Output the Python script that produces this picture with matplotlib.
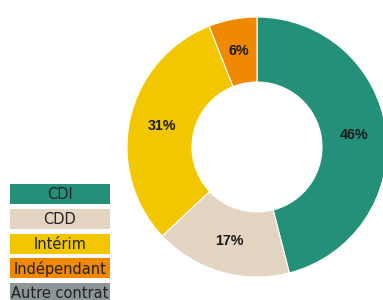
import numpy as np
import matplotlib.pyplot as plt
from matplotlib.patches import Rectangle

# contract types and shares (%)
categories = ["CDI", "CDD", "Intérim", "Indépendant", "Autre contrat"]
shares = [46, 17, 31, 6, 0]
colors = ["#24907a", "#e4d4c2", "#f2c700", "#f08800", "#8c9597"]

fig = plt.figure(figsize=(3.83, 3.0), dpi=100)

# background axes in pixel coords, used for the legend boxes
bg = fig.add_axes([0, 0, 1, 1])
bg.set_xlim(0, 383)
bg.set_ylim(300, 0)
bg.axis("off")

# donut
ax = fig.add_axes([127 / 383, 23 / 300, 260 / 383, 260 / 300])
vals = [v for v in shares if v > 0]
cols = [c for v, c in zip(shares, colors) if v > 0]
wedges, texts = ax.pie(
    vals,
    colors=cols,
    startangle=90,
    counterclock=False,
    radius=1.0,
    wedgeprops=dict(width=0.5, edgecolor="white", linewidth=0.8),
)
total = sum(vals)
for w, v in zip(wedges, vals):
    ang = np.deg2rad((w.theta1 + w.theta2) / 2)
    ax.text(0.75 * np.cos(ang), 0.75 * np.sin(ang), f"{round(100 * v / total)}%",
            ha="center", va="center", fontsize=10.3, fontweight="bold",
            family="Liberation Sans", color="#1a1a1a")
ax.set_xlim(-1, 1)
ax.set_ylim(-1, 1)
ax.axis("off")

# legend as filled boxes
top = 184
for i, (name, c) in enumerate(zip(categories, colors)):
    y = top + i * 24.8
    bg.add_patch(Rectangle((10, y), 100, 20, facecolor=c, edgecolor="none"))
    bg.text(60, y + 10.5, name, ha="center", va="center", fontsize=10.5,
            family="DejaVu Sans", color="#222222")

fig.savefig("out.png", dpi=100)
